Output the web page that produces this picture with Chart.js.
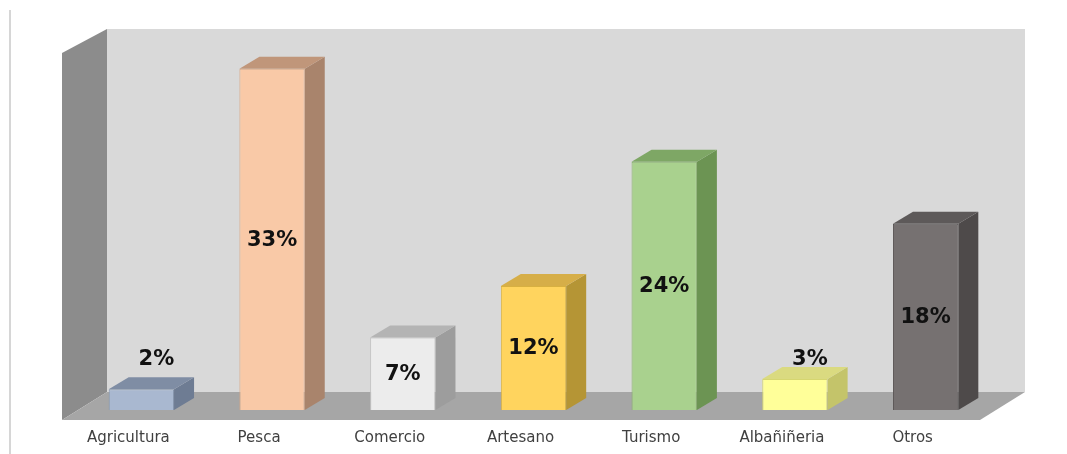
<!DOCTYPE html>
<html>
<head>
<meta charset="utf-8">
<script src="https://cdn.jsdelivr.net/npm/chart.js@4.4.0/dist/chart.umd.min.js"></script>
<style>
  html, body { margin: 0; padding: 0; background: #fff; }
  #wrap { width: 1067px; height: 454px; }
</style>
</head>
<body>
<div id="wrap"><canvas id="ocupacionChart"></canvas></div>
<script>
// Datos de ocupación
const categorias = ["Agricultura", "Pesca", "Comercio", "Artesano", "Turismo", "Albañiñeria", "Otros"];
const porcentajes = [2, 33, 7, 12, 24, 3, 18];
const ejeMax = 35;

// Colores de cada barra: cara frontal, lateral y superior
const coloresFrente = ["#a9b8d0", "#f9c9a7", "#ececec", "#ffd45e", "#a9d18e", "#ffff99", "#767171"];
const coloresBorde  = ["#8595ad", "#d9a784", "#c4c4c4", "#d8b040", "#86ae6c", "#d6d670", "#5a5656"];
const coloresLado   = ["#6e7c93", "#a9846c", "#9d9d9d", "#b59535", "#6c9453", "#c4c46a", "#4e4a4a"];
const coloresTapa   = ["#7f8da4", "#c0967a", "#b4b4b4", "#d6ae48", "#7ea765", "#dada80", "#5d5959"];

// profundidad de las barras
const PROF_X = 20, PROF_Y = -12;

// Paredes y piso del gráfico 3D
const escena3d = {
  id: "escena3d",
  beforeDraw(chart) {
    const ctx = chart.ctx;
    const area = chart.chartArea;
    const base = chart.scales.y.getPixelForValue(0);
    ctx.save();
    ctx.fillStyle = "#ffffff";
    ctx.fillRect(0, 0, chart.width, chart.height);

    // línea del borde izquierdo
    ctx.fillStyle = "#d6d6d6";
    ctx.fillRect(9, 10, 2, chart.height - 10);

    const fx0 = area.left - 14, fx1 = area.right - 11;
    const fy = base + 10, by = base - 18;
    const bx0 = fx0 + 45, bx1 = fx1 + 45;

    // pared del fondo
    ctx.fillStyle = "#d9d9d9";
    ctx.fillRect(bx0, area.top - 19, bx1 - bx0, by - (area.top - 19));

    // pared lateral
    ctx.fillStyle = "#8c8c8c";
    ctx.beginPath();
    ctx.moveTo(fx0, fy);
    ctx.lineTo(fx0, area.top + 5);
    ctx.lineTo(bx0, area.top - 19);
    ctx.lineTo(bx0, by);
    ctx.closePath();
    ctx.fill();

    // piso
    ctx.fillStyle = "#a6a6a6";
    ctx.beginPath();
    ctx.moveTo(fx0, fy);
    ctx.lineTo(fx1, fy);
    ctx.lineTo(bx1, by);
    ctx.lineTo(bx0, by);
    ctx.closePath();
    ctx.fill();
    ctx.restore();
  },
  beforeDatasetsDraw(chart) {
    const ctx = chart.ctx;
    const meta = chart.getDatasetMeta(0);
    ctx.save();
    meta.data.forEach((bar, i) => {
      const l = bar.x - bar.width / 2, r = bar.x + bar.width / 2;
      // cara lateral
      ctx.fillStyle = coloresLado[i];
      ctx.beginPath();
      ctx.moveTo(r, bar.y);
      ctx.lineTo(r + PROF_X, bar.y + PROF_Y);
      ctx.lineTo(r + PROF_X, bar.base + PROF_Y);
      ctx.lineTo(r, bar.base);
      ctx.closePath();
      ctx.fill();
      // cara superior
      ctx.fillStyle = coloresTapa[i];
      ctx.beginPath();
      ctx.moveTo(l, bar.y);
      ctx.lineTo(l + PROF_X, bar.y + PROF_Y);
      ctx.lineTo(r + PROF_X, bar.y + PROF_Y);
      ctx.lineTo(r, bar.y);
      ctx.closePath();
      ctx.fill();
    });
    ctx.restore();
  },
  afterDatasetsDraw(chart) {
    const ctx = chart.ctx;
    const meta = chart.getDatasetMeta(0);
    const yScale = chart.scales.y;
    ctx.save();
    ctx.font = "bold 21px 'DejaVu Sans'";
    ctx.fillStyle = "#111111";
    ctx.textAlign = "center";
    ctx.textBaseline = "middle";
    meta.data.forEach((bar, i) => {
      const v = porcentajes[i];
      const texto = v + "%";
      if (v < 5) {
        // barras bajas: etiqueta encima
        ctx.fillText(texto, bar.x + 15, yScale.getPixelForValue(4.9));
      } else {
        ctx.fillText(texto, bar.x, (bar.y + bar.base) / 2 + 1);
      }
    });
    ctx.restore();
  }
};

new Chart(document.getElementById("ocupacionChart"), {
  type: "bar",
  data: {
    labels: categorias,
    datasets: [{
      data: porcentajes,
      backgroundColor: coloresFrente,
      borderColor: coloresBorde,
      borderWidth: 1,
      categoryPercentage: 1,
      barPercentage: 0.5
    }]
  },
  options: {
    responsive: true,
    maintainAspectRatio: false,
    animation: false,
    layout: { padding: { left: 76, right: 76, top: 48, bottom: 6 } },
    plugins: {
      legend: { display: false },
      tooltip: { enabled: false }
    },
    scales: {
      y: { display: false, min: 0, max: ejeMax },
      x: {
        grid: { display: false },
        border: { display: false },
        ticks: {
          color: "#404040",
          font: { family: "'DejaVu Sans'", size: 15 },
          padding: 11,
          labelOffset: -13,
          maxRotation: 0
        },
        afterFit(scale) { scale.height = 38; }
      }
    }
  },
  plugins: [escena3d]
});
</script>
</body>
</html>
